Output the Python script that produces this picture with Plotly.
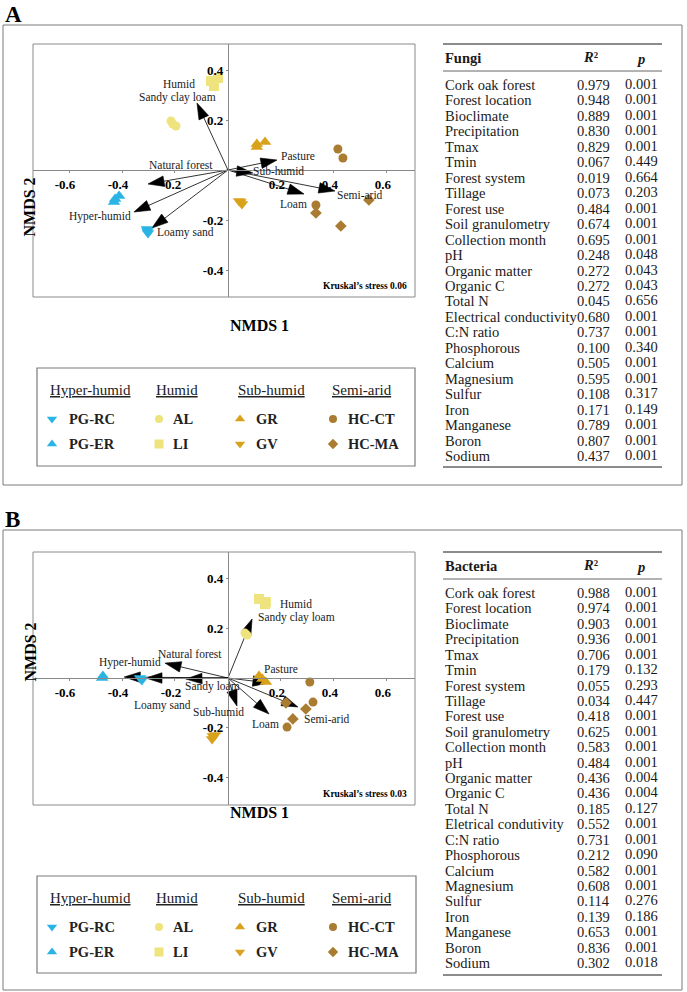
import plotly.graph_objects as go

W, H = 687, 992
FONT = "Liberation Serif"

# ------------------------------------------------------------------ data
sites = ["PG-RC", "PG-ER", "AL", "LI", "GR", "GV", "HC-CT", "HC-MA"]
site_bioclimate = ["Hyper-humid", "Hyper-humid", "Humid", "Humid",
                   "Sub-humid", "Sub-humid", "Semi-arid", "Semi-arid"]
bioclimates = ["Hyper-humid", "Humid", "Sub-humid", "Semi-arid"]

# Panel A (fungi) NMDS scores
fungi_site = ["PG-RC", "PG-RC", "PG-RC", "PG-ER", "PG-ER", "PG-ER",
              "AL", "AL", "AL", "LI", "LI", "LI",
              "GR", "GR", "GR", "GV", "GV", "GV",
              "HC-CT", "HC-CT", "HC-CT", "HC-MA", "HC-MA", "HC-MA"]
fungi_nmds1 = [-0.306, -0.302, -0.304, -0.426, -0.411, -0.430,
               -0.215, -0.196, -0.208, -0.064, -0.038, -0.053,
               0.109, 0.140, 0.109, 0.042, 0.053, 0.047,
               0.415, 0.434, 0.332, 0.332, 0.426, 0.532]
fungi_nmds2 = [-0.236, -0.252, -0.244, -0.116, -0.104, -0.128,
               0.196, 0.176, 0.184, 0.356, 0.368, 0.336,
               0.104, 0.112, 0.092, -0.124, -0.136, -0.128,
               0.084, 0.048, -0.140, -0.172, -0.224, -0.120]

# Panel A fitted vectors
fungi_vec_names = ["Sandy clay loam", "Natural forest", "Hyper-humid", "Loamy sand",
                   "Pasture", "Sub-humid", "Loam", "Semi-arid"]
fungi_vec_x = [-0.117, -0.302, -0.355, -0.287, 0.185, 0.094, 0.287, 0.404]
fungi_vec_y = [0.268, -0.056, -0.168, -0.232, 0.040, -0.012, -0.096, -0.084]
fungi_stress = 0.06

# Panel B (bacteria) NMDS scores
bact_site = ["PG-RC", "PG-RC", "PG-ER", "PG-ER",
             "AL", "AL", "LI", "LI", "LI",
             "GR", "GR", "GR", "GV", "GV", "GV",
             "HC-CT", "HC-CT", "HC-CT", "HC-MA", "HC-MA", "HC-MA"]
bact_nmds1 = [-0.332, -0.325, -0.472, -0.475,
              0.064, 0.072, 0.117, 0.143, 0.140,
              0.117, 0.130, 0.143, -0.057, -0.060, -0.049,
              0.309, 0.321, 0.223, 0.219, 0.294, 0.245]
bact_nmds2 = [0.000, -0.008, 0.008, 0.000,
              0.181, 0.173, 0.319, 0.306, 0.298,
              0.008, -0.004, -0.016, -0.234, -0.246, -0.230,
              -0.016, -0.097, -0.198, -0.100, -0.125, -0.165]

bact_vec_names = ["Sandy clay loam", "Natural forest", "Hyper-humid", "Loamy sand",
                  "Sandy loam", "Pasture", "Sub-humid", "Loam", "Semi-arid"]
bact_vec_x = [0.091, -0.238, -0.392, -0.310, -0.159, 0.155, 0.034, 0.155, 0.264]
bact_vec_y = [0.238, 0.060, 0.004, 0.000, -0.004, -0.020, -0.113, -0.145, -0.117]
bact_stress = 0.03

# Table values
fungi_vars = ["Cork oak forest", "Forest location", "Bioclimate", "Precipitation", "Tmax",
              "Tmin", "Forest system", "Tillage", "Forest use", "Soil granulometry",
              "Collection month", "pH", "Organic matter", "Organic C", "Total N",
              "Electrical conductivity", "C:N ratio", "Phosphorous", "Calcium",
              "Magnesium", "Sulfur", "Iron", "Manganese", "Boron", "Sodium"]
fungi_r2 = [0.979, 0.948, 0.889, 0.830, 0.829, 0.067, 0.019, 0.073, 0.484, 0.674,
            0.695, 0.248, 0.272, 0.272, 0.045, 0.680, 0.737, 0.100, 0.505, 0.595,
            0.108, 0.171, 0.789, 0.807, 0.437]
fungi_p = [0.001, 0.001, 0.001, 0.001, 0.001, 0.449, 0.664, 0.203, 0.001, 0.001,
           0.001, 0.048, 0.043, 0.043, 0.656, 0.001, 0.001, 0.340, 0.001, 0.001,
           0.317, 0.149, 0.001, 0.001, 0.001]

bact_vars = ["Cork oak forest", "Forest location", "Bioclimate", "Precipitation", "Tmax",
             "Tmin", "Forest system", "Tillage", "Forest use", "Soil granulometry",
             "Collection month", "pH", "Organic matter", "Organic C", "Total N",
             "Eletrical condutivity", "C:N ratio", "Phosphorous", "Calcium",
             "Magnesium", "Sulfur", "Iron", "Manganese", "Boron", "Sodium"]
bact_r2 = [0.988, 0.974, 0.903, 0.936, 0.706, 0.179, 0.055, 0.034, 0.418, 0.625,
           0.583, 0.484, 0.436, 0.436, 0.185, 0.552, 0.731, 0.212, 0.582, 0.608,
           0.114, 0.139, 0.653, 0.836, 0.302]
bact_p = [0.001, 0.001, 0.001, 0.001, 0.001, 0.132, 0.293, 0.447, 0.001, 0.001,
          0.001, 0.001, 0.004, 0.004, 0.127, 0.001, 0.001, 0.090, 0.001, 0.001,
          0.276, 0.186, 0.001, 0.001, 0.018]

tick_vals = [-0.6, -0.4, -0.2, 0.2, 0.4, 0.6]
tick_vals_y = [-0.4, -0.2, 0.2, 0.4]

# ------------------------------------------------------------------ styles
CYAN, YEL, GOLD, BROWN = "#2AB4E4", "#EEE37C", "#D9A21B", "#A97C32"
site_color = {"PG-RC": CYAN, "PG-ER": CYAN, "AL": YEL, "LI": YEL,
              "GR": GOLD, "GV": GOLD, "HC-CT": BROWN, "HC-MA": BROWN}
site_symbol = {"PG-RC": "triangle-down", "PG-ER": "triangle-up", "AL": "circle",
               "LI": "square", "GR": "triangle-up", "GV": "triangle-down",
               "HC-CT": "circle", "HC-MA": "diamond"}
site_size = {"triangle-down": 11, "triangle-up": 11, "circle": 9, "square": 10, "diamond": 9}
legend_size = {"triangle-down": 9, "triangle-up": 9, "circle": 8, "square": 9, "diamond": 8}

# label positions for vectors (data units, layout only)
fungi_lab = {"Sandy clay loam": [(-0.185, 0.344, "Humid"), (-0.189, 0.288, "Sandy clay loam")],
             "Natural forest": [(-0.178, 0.020, "Natural forest")],
             "Hyper-humid": [(-0.483, -0.188, "Hyper-humid")],
             "Loamy sand": [(-0.162, -0.252, "Loamy sand")],
             "Pasture": [(0.264, 0.056, "Pasture")],
             "Sub-humid": [(0.192, -0.006, "Sub-humid")],
             "Loam": [(0.248, -0.136, "Loam")],
             "Semi-arid": [(0.500, -0.100, "Semi-arid")]}
bact_lab = {"Sandy clay loam": [(0.257, 0.298, "Humid"), (0.257, 0.242, "Sandy clay loam")],
            "Natural forest": [(-0.143, 0.097, "Natural forest")],
            "Hyper-humid": [(-0.370, 0.062, "Hyper-humid")],
            "Loamy sand": [(-0.249, -0.110, "Loamy sand")],
            "Sandy loam": [(-0.060, -0.036, "Sandy loam")],
            "Pasture": [(0.200, 0.036, "Pasture")],
            "Sub-humid": [(-0.034, -0.136, "Sub-humid")],
            "Loam": [(0.140, -0.185, "Loam")],
            "Semi-arid": [(0.374, -0.165, "Semi-arid")]}


def PX(x):
    return x / W


def PY(y):
    return 1 - y / H


fig = go.Figure()
annotations = []
shapes = []

panels = [
    dict(letter="A", top=25, plot=(33, 415, 44, 297), xr=[-0.736, 0.706], yr=[-0.508, 0.504],
         site=fungi_site, nx=fungi_nmds1, ny=fungi_nmds2,
         vn=fungi_vec_names, vx=fungi_vec_x, vy=fungi_vec_y, lab=fungi_lab,
         stress=fungi_stress, leg=(37, 415, 368, 466),
         tab_name="Fungi", vars=fungi_vars, r2=fungi_r2, p=fungi_p,
         tab_top=44, tab_head=58, tab_rule=71, tab_row0=85, tab_step=15.46, tab_bot=467,
         ax="", nmds1_y=315),
    dict(letter="B", top=530, plot=(33, 415, 552, 805), xr=[-0.736, 0.706], yr=[-0.512, 0.508],
         site=bact_site, nx=bact_nmds1, ny=bact_nmds2,
         vn=bact_vec_names, vx=bact_vec_x, vy=bact_vec_y, lab=bact_lab,
         stress=bact_stress, leg=(37, 416, 876, 973),
         tab_name="Bacteria", vars=bact_vars, r2=bact_r2, p=bact_p,
         tab_top=552, tab_head=566, tab_rule=579, tab_row0=593, tab_step=15.42, tab_bot=975,
         ax="2", nmds1_y=823),
]

layout_axes = {}
for i, pn in enumerate(panels):
    k = pn["ax"]
    xa, ya = "x" + k, "y" + k
    x0, x1, y0, y1 = pn["plot"]
    xdom = [PX(x0), PX(x1)]
    ydom = [PY(y1), PY(y0)]
    xr, yr = pn["xr"], pn["yr"]
    # position of zero lines (axes cross at the origin)
    ypos = ydom[0] + (0 - yr[0]) / (yr[1] - yr[0]) * (ydom[1] - ydom[0])
    xpos = xdom[0] + (0 - xr[0]) / (xr[1] - xr[0]) * (xdom[1] - xdom[0])
    tickfont = dict(family=FONT, size=13, color="black", weight="bold")
    layout_axes["xaxis" + k] = dict(
        domain=xdom, range=xr, anchor="free", position=ypos, showline=True,
        linecolor="#8a8a8a", linewidth=1, showgrid=False, zeroline=False,
        tickvals=tick_vals, ticktext=[f"{v:.1f}" for v in tick_vals],
        tickfont=tickfont, ticks="outside", ticklen=2, tickcolor="#8a8a8a",
        ticklabelshift=-4)
    layout_axes["yaxis" + k] = dict(
        domain=ydom, range=yr, anchor="free", position=xpos, showline=True,
        linecolor="#8a8a8a", linewidth=1, showgrid=False, zeroline=False,
        tickvals=tick_vals_y, ticktext=[f"{v:.1f}" for v in tick_vals_y],
        tickfont=tickfont, ticks="outside", ticklen=2, tickcolor="#8a8a8a")
    # plot frame
    shapes.append(dict(type="rect", xref=xa + " domain", yref=ya + " domain",
                       x0=0, x1=1, y0=0, y1=1, line=dict(color="#8a8a8a", width=1)))
    # outer panel frame
    shapes.append(dict(type="rect", xref="paper", yref="paper", x0=PX(3), x1=PX(682),
                       y0=PY(pn["top"] + 460), y1=PY(pn["top"]),
                       line=dict(color="#7a7a7a", width=1)))
    # panel letter
    annotations.append(dict(text=pn["letter"], x=PX(3), y=PY(pn["top"] - 10.5),
                            xref="paper", yref="paper", xanchor="left", yanchor="middle",
                            showarrow=False,
                            font=dict(family=FONT, size=23, color="black", weight="bold")))
    # fitted vectors: a line from the origin with an arrow marker at the tip
    for name, vx, vy in zip(pn["vn"], pn["vx"], pn["vy"]):
        fig.add_trace(go.Scatter(
            x=[0, vx], y=[0, vy], xaxis=xa, yaxis=ya, mode="lines+markers", name=name,
            showlegend=False, hoverinfo="skip",
            line=dict(color="black", width=0.8),
            marker=dict(symbol=["circle", "arrow"], size=[0.1, 17], angleref="previous",
                        color="#000000", opacity=1, line=dict(width=0.6, color="#000000"))))
        for lx, ly, lt in pn["lab"][name]:
            annotations.append(dict(x=lx, y=ly, xref=xa, yref=ya, text=lt, showarrow=False,
                                    xanchor="center", yanchor="middle",
                                    font=dict(family=FONT, size=11.5, color="#222")))
    # site points
    for s in sites:
        xs = [x for x, ss in zip(pn["nx"], pn["site"]) if ss == s]
        ys = [y for y, ss in zip(pn["ny"], pn["site"]) if ss == s]
        sym = site_symbol[s]
        fig.add_trace(go.Scatter(x=xs, y=ys, xaxis=xa, yaxis=ya, mode="markers", name=s,
                                 showlegend=False,
                                 marker=dict(symbol=sym, color=site_color[s],
                                             size=site_size[sym], line=dict(width=0))))
    # axis titles
    annotations.append(dict(text="NMDS 1", x=PX(228), y=PY(pn["nmds1_y"]),
                            xref="paper", yref="paper", showarrow=False,
                            font=dict(family=FONT, size=16, color="black", weight="bold")))
    annotations.append(dict(text="NMDS 2", x=PX(19), y=PY((y0 + y1) / 2 + 5),
                            xref="paper", yref="paper", showarrow=False, textangle=-90,
                            font=dict(family=FONT, size=16, color="black", weight="bold")))
    # stress
    annotations.append(dict(text=f"Kruskal’s stress {pn['stress']:.2f}",
                            x=PX(409), y=PY(y1 - 11), xref="paper", yref="paper",
                            xanchor="right", yanchor="middle", showarrow=False,
                            font=dict(family=FONT, size=9.5, color="black", weight="bold")))

    # legend box
    lx0, lx1, ly0, ly1 = pn["leg"]
    shapes.append(dict(type="rect", xref="paper", yref="paper", x0=PX(lx0), x1=PX(lx1),
                       y0=PY(ly1), y1=PY(ly0), line=dict(color="#7a7a7a", width=1.2)))
    lk = str(3 + i)
    layout_axes["xaxis" + lk] = dict(domain=[PX(lx0), PX(lx1)], range=[lx0, lx1],
                                     visible=False, anchor="y" + lk)
    layout_axes["yaxis" + lk] = dict(domain=[PY(ly1), PY(ly0)], range=[ly1, ly0],
                                     visible=False, anchor="x" + lk)
    col_head = [48, 154, 236, 330]
    col_mark = [52, 159, 240, 333]
    col_text = [67, 171, 254, 346]
    head_y = ly0 + 22
    row_y = [ly0 + 51, ly0 + 76]
    for c, bc in enumerate(bioclimates):
        annotations.append(dict(text=f"<u>{bc}</u>", x=PX(col_head[c]), y=PY(head_y),
                                xref="paper", yref="paper", xanchor="left", yanchor="middle",
                                showarrow=False, font=dict(family=FONT, size=15, color="#222")))
        members = [s for s, b in zip(sites, site_bioclimate) if b == bc]
        for r, s in enumerate(members):
            sym = site_symbol[s]
            fig.add_trace(go.Scatter(x=[col_mark[c]], y=[row_y[r]], xaxis="x" + lk,
                                     yaxis="y" + lk, mode="markers", showlegend=False,
                                     hoverinfo="skip",
                                     marker=dict(symbol=sym, color=site_color[s],
                                                 size=legend_size[sym], line=dict(width=0))))
            annotations.append(dict(text=s, x=PX(col_text[c]), y=PY(row_y[r]),
                                    xref="paper", yref="paper", xanchor="left",
                                    yanchor="middle", showarrow=False,
                                    font=dict(family=FONT, size=14.5, color="#222",
                                              weight="bold")))

    # table
    tx0, tx1 = 443, 662
    for yy, wdt in [(pn["tab_top"], 1.3), (pn["tab_rule"], 1.0), (pn["tab_bot"], 1.3)]:
        shapes.append(dict(type="line", xref="paper", yref="paper", x0=PX(tx0), x1=PX(tx1),
                           y0=PY(yy), y1=PY(yy), line=dict(color="#666", width=wdt)))
    tf = dict(family=FONT, size=14.5, color="#1a1a1a")
    tfb = dict(family=FONT, size=14.5, color="#1a1a1a", weight="bold")
    annotations.append(dict(text=pn["tab_name"], x=PX(tx0), y=PY(pn["tab_head"]),
                            xref="paper", yref="paper", xanchor="left", yanchor="middle",
                            showarrow=False, font=tfb))
    annotations.append(dict(text="<i>R</i>²", x=PX(590),
                            y=PY(pn["tab_head"] - 1), xref="paper", yref="paper",
                            xanchor="center", yanchor="middle", showarrow=False, font=tfb))
    annotations.append(dict(text="<i>p</i>", x=PX(640), y=PY(pn["tab_head"] + 1),
                            xref="paper", yref="paper", xanchor="center", yanchor="middle",
                            showarrow=False, font=tfb))
    for j, (v, r2, pv) in enumerate(zip(pn["vars"], pn["r2"], pn["p"])):
        yy = pn["tab_row0"] + j * pn["tab_step"]
        annotations.append(dict(text=v, x=PX(tx0), y=PY(yy), xref="paper", yref="paper",
                                xanchor="left", yanchor="middle", showarrow=False, font=tf))
        annotations.append(dict(text=f"{r2:.3f}", x=PX(612), y=PY(yy), xref="paper",
                                yref="paper", xanchor="right", yanchor="middle",
                                showarrow=False, font=tf))
        annotations.append(dict(text=f"{pv:.3f}", x=PX(660), y=PY(yy - 1), xref="paper",
                                yref="paper", xanchor="right", yanchor="middle",
                                showarrow=False, font=tf))

fig.update_layout(
    width=W, height=H, margin=dict(l=0, r=0, t=0, b=0),
    paper_bgcolor="white", plot_bgcolor="white",
    font=dict(family=FONT, color="black"),
    showlegend=False, annotations=annotations, shapes=shapes, **layout_axes)

fig.write_html("out.html", config={"displayModeBar": False},
               post_script="document.body.style.margin='0px';document.body.style.padding='0px';")
